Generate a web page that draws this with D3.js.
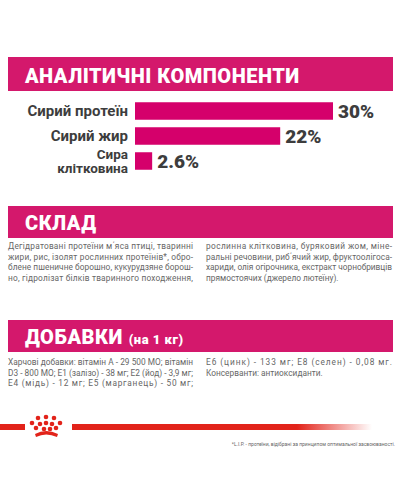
<!DOCTYPE html>
<html><head><meta charset="utf-8">
<script src="https://cdn.jsdelivr.net/npm/d3@7"></script>
<style>body{margin:0;background:#fff}svg{display:block}</style>
</head><body><div id="c"></div>
<script>
const categories = [["Сирий протеїн"], ["Сирий жир"], ["Сира", "клітковина"]];
const values = [30, 22, 2.6];
const valueLabels = ["30%", "22%", "2.6%"];
const headers = ["АНАЛІТИЧНІ КОМПОНЕНТИ", "СКЛАД", "ДОБАВКИ"];
const compLeft = ["Дегідратовані протеїни м΄яса птиці, тваринні","жири, рис, ізолят рослинних протеїнів*, обро-","блене пшеничне борошно, кукурудзяне борош-","но, гідролізат білків тваринного походження,"];
const compRight = ["рослинна клітковина, буряковий жом, міне-","ральні речовини, риб΄ячий жир, фруктоолігоса-","хариди, олія огірочника, екстракт чорнобривців","прямостоячих (джерело лютеїну)."];
const addLeft = ["Харчові добавки: вітамін А - 29 500 МО; вітамін","D3 - 800 МО; Е1 (залізо) - 38 мг; Е2 (йод) - 3,9 мг;","Е4 (мідь) - 12 мг; Е5 (марганець) - 50 мг;"];
const addRight = ["Е6 (цинк) - 133 мг; Е8 (селен) - 0,08 мг.","Консерванти: антиоксиданти."];
const footnote = "*L.I.P. - протеїни, відібрані за принципом оптимальної засвоюваності.";

const W=400,H=500, pink="#d4186c", barC="#d5006b", dark="#3d3d3d", grey="#666";
const svg=d3.select("#c").append("svg").attr("width",W).attr("height",H).style("font-family","Roboto, 'DejaVu Sans', sans-serif");

function header(y,h,t,extra){
  svg.append("rect").attr("x",8).attr("y",y).attr("width",385).attr("height",h).attr("fill",pink);
  const tx=svg.append("text").attr("x",25).attr("y",y+h-8).attr("fill","#fff").attr("font-weight","900").attr("font-size",20).attr("letter-spacing",0.5).text(t);
  if(extra) tx.append("tspan").attr("font-size",13).attr("dx",6).text(extra);
}
header(57,34,headers[0]);
header(206,32,headers[1]);
header(320,32,headers[2],"(на 1 кг)");

const x=d3.scaleLinear().domain([0,30]).range([135,333]);
const y=d3.scaleBand().domain(d3.range(values.length)).range([101,171]).paddingInner(0.3).paddingOuter(0.05);
const g=svg.append("g");
g.selectAll("rect.b").data(values).join("rect").attr("x",x(0)).attr("y",(d,i)=>y(i)).attr("width",d=>x(d)-x(0)).attr("height",y.bandwidth()).attr("fill",barC);
g.selectAll("text.v").data(values).join("text").attr("x",d=>x(d)+5).attr("y",(d,i)=>y(i)+y.bandwidth()/2+7).attr("fill",dark).attr("font-weight","900").attr("font-size",19).text((d,i)=>valueLabels[i]);
categories.forEach((c,i)=>{
  const cy=y(i)+y.bandwidth()/2;
  c.forEach((line,j)=>{
    g.append("text").attr("x",128).attr("y",cy+5+(j-(c.length-1)/2)*14).attr("text-anchor","end").attr("fill",dark).attr("font-weight","bold").attr("font-size",c.length>1?13.5:15).text(line);
  });
});

function para(lines,x0,y0,w,justifyAll){
  lines.forEach((l,i)=>{
    svg.append("text").attr("x",x0).attr("y",y0+i*10.5).attr("fill",grey).attr("font-size",8.3).attr("textLength",(justifyAll||i<lines.length-1)?w:null).attr("lengthAdjust","spacing").text(l);
  });
}
para(compLeft,8,249,185,true);
para(compRight,206,249,186,false);
para(addLeft,8,365,185,true);
para(addRight,206,365,186,false);

const defs=svg.append("defs");
const gr=defs.append("linearGradient").attr("id","fade");
gr.append("stop").attr("offset","0%").attr("stop-color","#e2231a");
gr.append("stop").attr("offset","75%").attr("stop-color","#e2231a");
gr.append("stop").attr("offset","100%").attr("stop-color","#e2231a").attr("stop-opacity",0);
svg.append("rect").attr("x",0).attr("y",424).attr("width",25).attr("height",6).attr("fill","#e2231a");
svg.append("rect").attr("x",72).attr("y",424).attr("width",300).attr("height",6).attr("fill","url(#fade)");
const crown=svg.append("g").attr("fill","#e2231a");
[[32,423],[38,418],[46,417],[54,418],[60,423],[40,424],[46,423],[52,424],[36,428],[44,429],[50,429],[56,428]].forEach(p=>crown.append("circle").attr("cx",p[0]).attr("cy",p[1]).attr("r",2.3));
crown.append("path").attr("d","M35,434 Q46,428 58,434 L57,437 Q46,432 36,437 Z");
svg.append("text").attr("x",395).attr("y",446).attr("text-anchor","end").attr("fill",grey).attr("font-size",5).text(footnote);
</script></body></html>
